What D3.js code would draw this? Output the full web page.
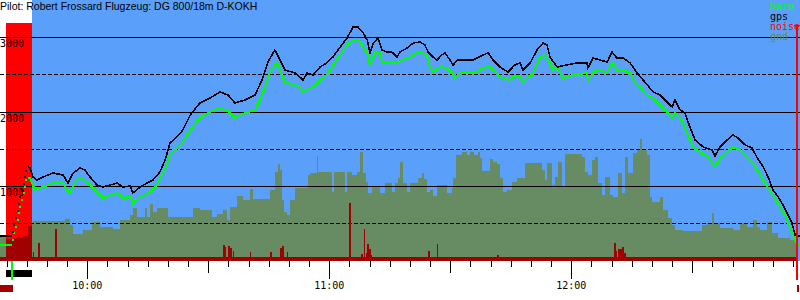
<!DOCTYPE html>
<html><head><meta charset="utf-8">
<script src="https://cdn.jsdelivr.net/npm/d3@7/dist/d3.min.js"></script>
<style>
body{margin:0;background:#fff}
svg{display:block}
text{font-family:"DejaVu Sans Mono",monospace;font-size:10px}
</style></head><body>
<div id="chart"></div>
<script>
// times are minutes after 10:00, altitudes in metres
var title = "Pilot: Robert Frossard Flugzeug:  DG 800/18m D-KOKH";
var hourLabels = [[0, "10:00"], [60, "11:00"], [120, "12:00"]];
var solidLines = [1000, 2000, 3000];
var dashedLines = [500, 1500, 2500];
var legend = [["baro", "#00ff00"], ["gps", "#000000"], ["noise", "#ff0000"], ["gnd", "#688a62"]];

var towStart = -20.2, towEnd = -13.7, cursorT = 175.8;

var groundGps = [[-21.7, 323], [-18.6, 323]];
var groundBaro = [[-21.7, 202], [-18.6, 202]];
var towTimes = [-18.4, -18.05, -17.7, -17.3, -16.9, -16.6, -16.2, -15.8, -15.4, -15.1];
var towGps = [376, 470, 565, 659, 753, 848, 942, 1023, 1117, 1198];
var towBaro = [268, 363, 443, 538, 632, 713, 807, 902, 982, 1077];

var gps = [[-14.7,1252],[-14.2,1239],[-13.5,1117],[-12.5,1077],[-11.0,1117],[-8.5,1171],[-6.0,1144],[-4.8,1036],[-3.5,1171],[-1.8,1239],[-0.6,1212],[0.7,1117],[2.4,1009],[3.9,982],[7.4,1036],[8.9,982],[10.6,996],[11.3,902],[13.1,982],[14.8,1036],[16.3,1077],[18.0,1185],[19.3,1346],[20.5,1576],[22.2,1656],[23.7,1751],[25.5,1953],[27.9,2115],[30.4,2182],[32.9,2263],[34.9,2222],[36.6,2115],[39.1,2155],[41.6,2222],[43.3,2425],[44.8,2667],[46.5,2829],[47.8,2694],[49.0,2559],[51.5,2519],[52.7,2465],[53.5,2425],[54.5,2519],[56.0,2492],[57.7,2600],[59.4,2654],[60.9,2735],[62.7,2869],[64.4,2991],[65.9,3139],[67.1,3139],[68.4,3058],[69.4,2964],[70.1,2789],[70.9,2923],[72.1,2991],[73.1,2829],[74.3,2802],[75.5,2802],[76.8,2735],[77.5,2802],[79.3,2856],[80.8,2923],[82.5,2937],[83.7,2896],[84.5,2802],[85.7,2735],[86.7,2694],[87.9,2762],[88.7,2789],[89.9,2694],[90.7,2627],[91.7,2694],[93.2,2694],[95.6,2694],[98.1,2762],[99.4,2789],[100.6,2694],[102.3,2600],[104.3,2532],[106.0,2627],[107.3,2654],[108.0,2559],[109.8,2654],[111.5,2829],[113.0,2923],[114.0,2896],[114.7,2735],[116.5,2600],[118.9,2627],[121.4,2654],[123.9,2654],[124.1,2586],[125.4,2721],[128.9,2667],[130.1,2802],[131.3,2721],[132.8,2721],[134.6,2654],[136.3,2519],[137.8,2425],[140.3,2263],[142.0,2222],[143.7,2128],[145.0,2061],[145.7,2155],[147.0,2020],[148.2,1980],[149.4,1791],[150.7,1616],[152.7,1522],[154.9,1481],[155.6,1400],[156.9,1522],[158.6,1616],[160.1,1683],[161.3,1643],[163.1,1549],[164.8,1508],[166.0,1387],[167.6,1252],[168.8,1117],[170.0,942],[171.3,848],[172.5,740],[173.5,632],[174.7,497],[175.5,336],[176.0,323],[176.7,323]];

var baro = [[-14.7,1104],[-14.2,1104],[-13.0,942],[-11.0,982],[-8.5,1036],[-6.0,1036],[-4.5,902],[-2.6,1077],[-1.3,1104],[0.7,1009],[2.4,915],[3.9,834],[7.4,902],[8.9,834],[10.6,848],[11.3,767],[13.1,848],[15.5,915],[17.3,1009],[18.8,1171],[20.5,1414],[22.2,1508],[23.7,1589],[25.5,1751],[27.9,1913],[30.4,1994],[32.9,2047],[34.9,2007],[36.6,1913],[39.1,1980],[41.6,2020],[43.3,2222],[45.3,2532],[47.0,2654],[49.0,2398],[51.5,2357],[52.7,2317],[53.5,2263],[56.0,2330],[57.7,2425],[59.4,2492],[60.9,2627],[62.7,2762],[64.4,2896],[65.9,2964],[67.1,2964],[68.4,2869],[69.4,2789],[70.1,2627],[71.3,2789],[72.6,2802],[73.1,2654],[75.1,2667],[76.8,2654],[78.3,2694],[80.0,2735],[81.7,2789],[83.0,2789],[84.2,2762],[85.0,2600],[85.7,2532],[87.5,2600],[89.2,2586],[90.4,2519],[91.2,2452],[92.4,2519],[94.2,2532],[96.6,2532],[98.1,2586],[99.8,2600],[101.6,2519],[102.3,2465],[104.3,2425],[106.0,2478],[107.3,2465],[108.0,2398],[110.5,2519],[112.2,2721],[113.5,2762],[114.7,2654],[115.5,2559],[116.5,2586],[118.0,2452],[120.4,2492],[123.9,2519],[124.1,2425],[125.9,2559],[128.9,2532],[130.1,2667],[131.3,2559],[132.8,2559],[134.6,2519],[135.8,2384],[137.0,2330],[138.8,2222],[140.3,2182],[142.0,2088],[143.7,1994],[145.0,1913],[145.7,1980],[147.7,1859],[148.7,1710],[150.2,1522],[151.9,1454],[153.9,1387],[155.6,1252],[156.9,1373],[158.6,1454],[160.1,1522],[161.8,1481],[163.6,1387],[165.1,1306],[166.8,1144],[168.6,982],[170.0,875],[171.8,713],[173.0,605],[174.2,443],[175.5,269],[176.0,215],[176.7,215]];

var gnd = [[-21.6,336],[-20.2,430],[-13.7,511],[-13.5,524],[-5.5,551],[-4.3,470],[-3.5,349],[-1.1,403],[1.2,511],[3.1,443],[6.4,416],[8.1,538],[10.6,605],[11.3,700],[12.3,578],[14.3,700],[14.8,578],[15.5,753],[16.3,646],[17.3,700],[20.0,578],[26.2,700],[27.9,673],[30.9,578],[32.2,619],[33.7,673],[34.6,538],[35.4,713],[37.1,861],[38.6,807],[40.4,955],[41.1,821],[45.3,942],[46.5,1185],[47.3,1293],[47.8,1212],[48.3,807],[48.8,646],[49.5,605],[50.3,807],[51.5,969],[54.7,1144],[55.2,1171],[56.9,1400],[57.2,1185],[60.7,915],[61.2,1185],[63.9,915],[64.4,1185],[65.6,1144],[66.9,1185],[67.6,1454],[68.4,1171],[69.1,1050],[69.6,902],[70.6,982],[72.6,902],[73.8,1036],[75.6,915],[76.3,1036],[77.0,1104],[77.5,1319],[78.3,1036],[79.3,915],[80.0,1036],[82.0,1104],[83.0,1171],[83.5,1090],[84.2,915],[85.0,942],[85.7,861],[86.7,1009],[89.2,902],[90.4,969],[90.7,1104],[91.4,1414],[92.9,1454],[94.2,1414],[94.9,1454],[95.9,1414],[96.9,1454],[97.4,1373],[97.9,1198],[99.9,1360],[100.6,1319],[101.6,1293],[102.3,1104],[103.1,915],[104.1,942],[105.3,1050],[106.6,1104],[108.5,1306],[112.7,1212],[113.5,1077],[114.0,1306],[115.2,1009],[116.0,1117],[116.7,1319],[117.7,982],[118.4,1427],[122.7,1387],[123.4,1185],[124.2,1144],[125.2,1346],[125.9,1387],[126.6,1036],[127.6,875],[128.4,1117],[129.6,875],[130.4,848],[131.6,1171],[132.6,902],[133.3,1387],[134.1,1171],[135.3,1441],[136.3,1481],[137.0,1629],[137.5,1481],[138.8,1414],[139.5,848],[140.0,780],[142.0,848],[142.7,673],[144.0,565],[145.0,470],[145.7,403],[147.7,389],[152.4,470],[153.6,497],[154.9,632],[155.4,497],[156.9,430],[160.1,403],[161.9,497],[163.6,443],[165.1,538],[166.1,443],[166.8,403],[168.6,511],[169.8,362],[171.3,295],[174.2,268],[176.2,268]];

var noiseBase = 40;
var towNoise = [[-20.2,282],[-18.4,295],[-17.2,309],[-15.9,322],[-14.7,457],[-13.7,40]];
var spikeTimes = [-13.5,-12.2,-8.0,33.7,34.1,34.9,35.4,36.1,40.3,45.3,47.8,48.3,49.5,64.9,67.9,68.6,69.1,69.4,69.9,70.1,84.5,86.7,101.6,130.6,130.9,131.6,132.1,132.6,133.1];
var spikeValues = [106,228,416,201,174,187,160,120,106,106,160,187,106,767,80,416,93,214,147,66,120,214,66,228,120,147,147,174,93];

var width = 800, height = 300, plotBottom = 261;

var svg = d3.select("#chart").append("svg")
	.attr("width", width).attr("height", height)
	.attr("shape-rendering", "crispEdges");

var x = d3.scaleLinear().domain([0, 120]).range([87.3, 571.3]);
var y = d3.scaleLinear().domain([0, 3000]).range([259.9, 37.3]);

// sky
svg.append("rect").attr("x", x(towEnd)).attr("y", 0)
	.attr("width", width - x(towEnd)).attr("height", plotBottom).attr("fill", "#5aa0fa");

// terrain
var gndArea = d3.area().curve(d3.curveStepAfter)
	.x(function(d) { return x(d[0]); }).y0(plotBottom).y1(function(d) { return y(d[1]); });
svg.append("path").datum(gnd).attr("d", gndArea).attr("fill", "#678c64");

// tow phase
svg.append("rect").attr("x", x(towStart)).attr("y", 23)
	.attr("width", x(towEnd) - x(towStart)).attr("height", 257 - 23).attr("fill", "#ff0000");

// grid
svg.selectAll(".solid").data(solidLines).enter().append("line")
	.attr("x1", 0).attr("x2", width).attr("y1", function(d) { return Math.round(y(d)) + .5; })
	.attr("y2", function(d) { return Math.round(y(d)) + .5; }).attr("stroke", "#000");
svg.selectAll(".dash").data(dashedLines).enter().append("line")
	.attr("x1", 0).attr("x2", width).attr("y1", function(d) { return Math.round(y(d)) + .5; })
	.attr("y2", function(d) { return Math.round(y(d)) + .5; }).attr("stroke", "#000")
	.attr("stroke-dasharray", "4,2");
svg.selectAll(".ylab").data(solidLines).enter().append("text")
	.attr("x", 0).attr("y", function(d) { return y(d) + 10; }).text(function(d) { return d; });

// noise
svg.append("rect").attr("x", x(-21.6)).attr("y", y(noiseBase))
	.attr("width", x(176.2) - x(-21.6)).attr("height", plotBottom - y(noiseBase)).attr("fill", "#a00000");
svg.append("path").datum(towNoise).attr("d", gndArea).attr("fill", "#a00000");
svg.selectAll(".spike").data(spikeTimes).enter().append("rect")
	.attr("x", function(d) { return x(d); }).attr("width", 1.5)
	.attr("y", function(d, i) { return y(spikeValues[i]); })
	.attr("height", function(d, i) { return plotBottom - y(spikeValues[i]); })
	.attr("fill", "#a00000");

// altitude traces
var line = d3.line().x(function(d) { return x(d[0]); }).y(function(d) { return y(d[1]); });
[[groundBaro, "#00ff00"], [groundGps, "#000"], [baro, "#00ff00"], [gps, "#000"]].forEach(function(s) {
	svg.append("path").datum(s[0]).attr("d", line).attr("fill", "none")
		.attr("stroke", s[1]).attr("stroke-width", s[1] == "#000" ? 1.6 : 2);
});
svg.selectAll(".tb").data(towTimes).enter().append("rect")
	.attr("x", function(d) { return x(d) - 1; }).attr("y", function(d, i) { return y(towBaro[i]) - 1; })
	.attr("width", 2).attr("height", 2).attr("fill", "#00ff00");
svg.selectAll(".tg").data(towTimes).enter().append("rect")
	.attr("x", function(d) { return x(d) - 1; }).attr("y", function(d, i) { return y(towGps[i]) - 1; })
	.attr("width", 2).attr("height", 2).attr("fill", "#000");

// time axis
var ticks = d3.range(-20, 180, 5);
svg.selectAll(".tick").data(ticks).enter().append("line")
	.attr("x1", function(d) { return Math.round(x(d)) + .5; }).attr("x2", function(d) { return Math.round(x(d)) + .5; })
	.attr("y1", plotBottom).attr("y2", function(d) { return plotBottom + (d % 60 == 0 ? 18 : d % 30 == 0 ? 12 : 6); })
	.attr("stroke", "#000");
svg.selectAll(".tlab").data(hourLabels).enter().append("text")
	.attr("x", function(d) { return x(d[0]); }).attr("y", 289).attr("text-anchor", "middle")
	.text(function(d) { return d[1]; });

// position markers
svg.append("rect").attr("x", x(towStart)).attr("y", 270).attr("width", x(towEnd) - x(towStart)).attr("height", 7).attr("fill", "#000");
svg.append("rect").attr("x", x(-18.9)).attr("y", plotBottom).attr("width", 2).attr("height", 19).attr("fill", "#00ff00");
svg.append("rect").attr("x", x(-21.6)).attr("y", 285).attr("width", x(-18.4) - x(-21.6)).attr("height", 7).attr("fill", "#a00000");
svg.append("rect").attr("x", x(cursorT)).attr("y", 25).attr("width", 2).attr("height", 255).attr("fill", "#ff0000");
svg.append("rect").attr("x", x(cursorT) - 2).attr("y", 25).attr("width", 6).attr("height", 1).attr("fill", "#ff0000");
svg.append("rect").attr("x", x(cursorT) + 1).attr("y", 285).attr("width", 2).attr("height", 7).attr("fill", "#a00000");

// legend and title
svg.selectAll(".leg").data(legend).enter().append("text")
	.attr("x", 770).attr("y", function(d, i) { return 10 + i * 10; })
	.attr("fill", function(d) { return d[1]; }).text(function(d) { return d[0]; });
svg.append("text").attr("x", 0).attr("y", 10)
	.style("font-family", "'Liberation Sans', Arial, sans-serif").style("font-size", "10.5px")
	.text(title);
</script>
</body></html>
